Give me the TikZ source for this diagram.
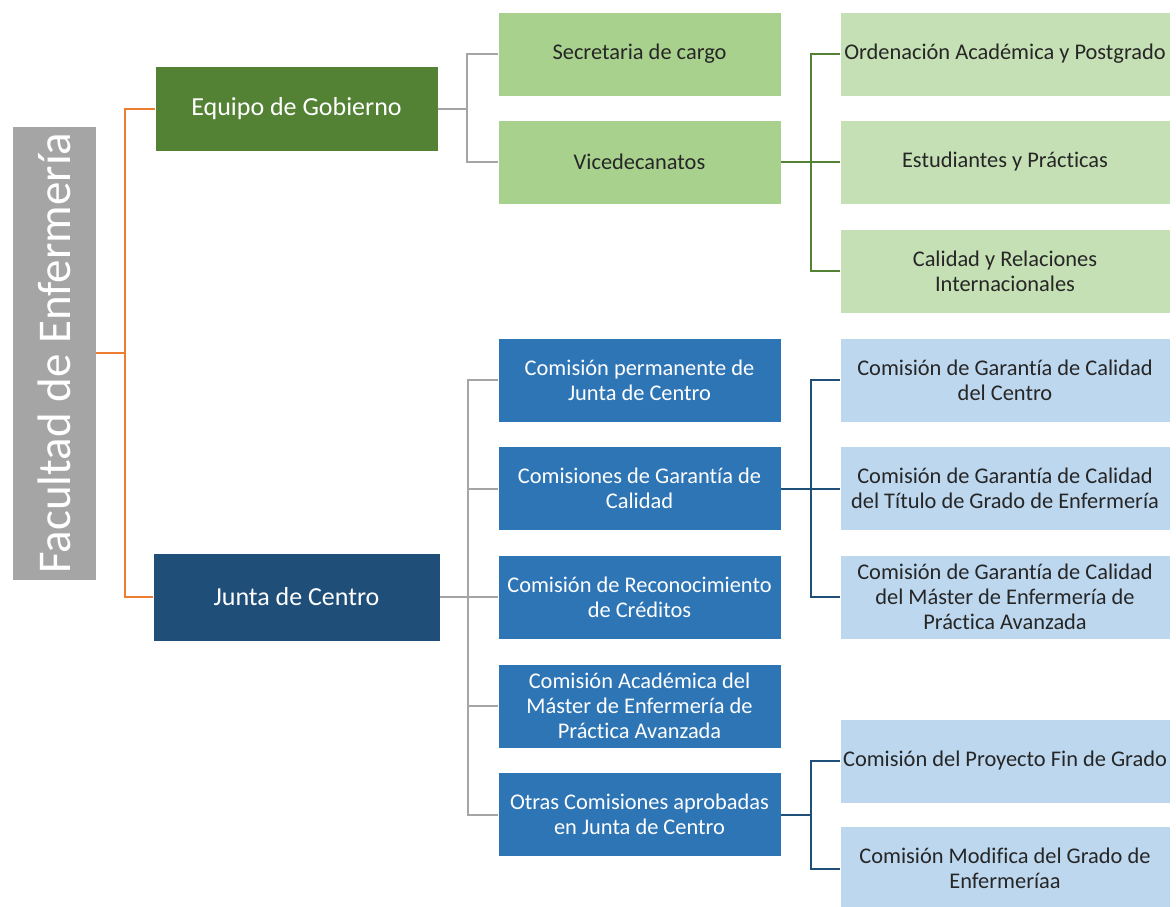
\documentclass[tikz,border=0pt]{standalone}
\usepackage{fontspec}
\setmainfont{Carlito}[Ligatures={NoCommon}]
\definecolor{corange}{HTML}{ED7D31}
\definecolor{cgray}{HTML}{A5A5A5}
\definecolor{cdgreen}{HTML}{548235}
\definecolor{cmgreen}{HTML}{A9D18E}
\definecolor{clgreen}{HTML}{C5E0B4}
\definecolor{cnavy}{HTML}{1F4E79}
\definecolor{cblue}{HTML}{2E75B6}
\definecolor{clblue}{HTML}{BDD7EE}
\definecolor{ctext}{HTML}{262626}
\begin{document}
\begin{tikzpicture}[x=1pt,y=-1pt,
  base/.style={rectangle, inner sep=0pt, align=center, draw=white, line width=0.8pt,
    font=\fontsize{22.4}{25}\selectfont},
  coltwo/.style={base, minimum width=283pt, minimum height=84pt},
  colthree/.style={base, minimum width=330pt, minimum height=84pt, text=ctext},
  gwire/.style={draw=cgray, line width=2pt},
  orwire/.style={draw=corange, line width=2pt},
  grwire/.style={draw=cdgreen, line width=2pt},
  nvwire/.style={draw=cnavy, line width=2pt}]
\useasboundingbox (0,0) rectangle (1176,906);
\fill[white] (0,0) rectangle (1176,906);

% root
\node[base, fill=cgray, minimum width=84pt, minimum height=454pt] (fac) at (54,353) {};
\node[rotate=90, text=white, font=\fontsize{47}{52}\selectfont] (factxt) at (fac.center) {Facultad de Enfermería};

% level 1
\node[base, fill=cdgreen, text=white, minimum width=283pt, minimum height=85pt,
  font=\fontsize{26}{30}\selectfont] (eq) at (296.5,108.5) {Equipo de Gobierno};
\node[base, fill=cnavy, text=white, minimum width=287pt, minimum height=88pt,
  font=\fontsize{26}{30}\selectfont] (jc) at (296.5,597) {Junta de Centro};

% level 2 green
\node[coltwo, fill=cmgreen, text=ctext] (sec) at (639.5,54) {Secretaria de cargo};
\node[coltwo, fill=cmgreen, text=ctext] (vic) at (639.5,162) {Vicedecanatos};

% level 2 blue
\node[coltwo, fill=cblue, text=white] (cp) at (639.5,380) {Comisión permanente de\\Junta de Centro};
\node[coltwo, fill=cblue, text=white] (cg) at (639.5,488.5) {Comisiones de Garantía de\\Calidad};
\node[coltwo, fill=cblue, text=white] (cr) at (639.5,597) {Comisión de Reconocimiento\\de Créditos};
\node[coltwo, fill=cblue, text=white] (ca) at (639.5,706) {Comisión Académica del\\Máster de Enfermería de\\Práctica Avanzada};
\node[coltwo, fill=cblue, text=white] (co) at (639.5,814.5) {Otras Comisiones aprobadas\\en Junta de Centro};

% level 3 green
\node[colthree, fill=clgreen] (oa) at (1005,54) {Ordenación Académica y Postgrado};
\node[colthree, fill=clgreen] (ep) at (1005,162) {Estudiantes y Prácticas};
\node[colthree, fill=clgreen] (cri) at (1005,271) {Calidad y Relaciones\\Internacionales};

% level 3 blue
\node[colthree, fill=clblue] (g1) at (1005,380) {Comisión de Garantía de Calidad\\del Centro};
\node[colthree, fill=clblue] (g2) at (1005,488.5) {Comisión de Garantía de Calidad\\del Título de Grado de Enfermería};
\node[colthree, fill=clblue] (g3) at (1005,597) {Comisión de Garantía de Calidad\\del Máster de Enfermería de\\Práctica Avanzada};
\node[colthree, fill=clblue] (o1) at (1005,761) {Comisión del Proyecto Fin de Grado};
\node[colthree, fill=clblue] (o2) at (1005,868.5) {Comisión Modifica del Grado de\\Enfermeríaa};

% connectors
\foreach \t in {eq,jc} \draw[orwire] (fac.east) -- ++(29,0) |- (\t.west);
\foreach \t in {sec,vic} \draw[gwire] (eq.east) -- ++(29,0) |- (\t.west);
\foreach \t in {oa,ep,cri} \draw[grwire] (vic.east) -- ++(29.5,0) |- (\t.west);
\foreach \t in {cp,cg,cr,ca,co} \draw[gwire] (jc.east) -- ++(28,0) |- (\t.west);
\foreach \t in {g1,g2,g3} \draw[nvwire] (cg.east) -- ++(29.5,0) |- (\t.west);
\foreach \t in {o1,o2} \draw[nvwire] (co.east) -- ++(29.5,0) |- (\t.west);
\end{tikzpicture}
\end{document}
